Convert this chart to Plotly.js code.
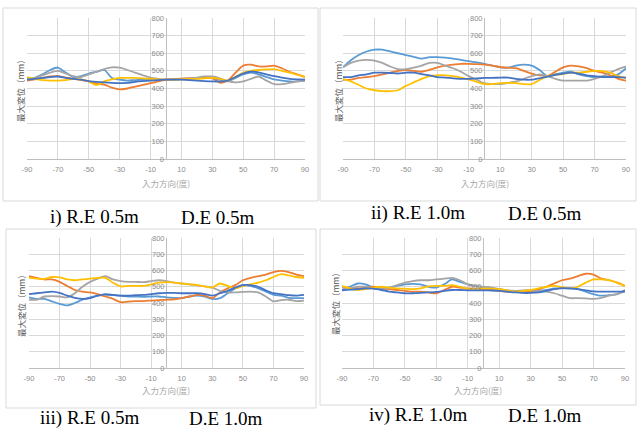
<!DOCTYPE html>
<html><head><meta charset="utf-8">
<script src="https://cdn.plot.ly/plotly-3.0.1.min.js"></script>
<style>html,body{margin:0;padding:0;background:#fff;}#chart{width:637px;height:430px;}</style>
</head><body><div id="chart"></div>
<script>
// Input direction (deg)
const angles = [-90,-85,-80,-75,-70,-65,-60,-55,-50,-45,-40,-35,-30,-25,-20,-15,-10,-5,0,5,10,15,20,25,30,35,40,45,50,55,60,65,70,75,80,85,90];
const xTicks = [-90,-70,-50,-30,-10,10,30,50,70,90];
const seriesColors = ['#5B9BD5','#ED7D31','#A5A5A5','#FFC000','#4472C4'];

// Panel i) R.E 0.5m D.E 0.5m
const p1_s1 = [455,460,480,505,519,490,465,470,485,495,505,460,450,445,448,450,450,450,450,452,455,458,460,462,458,450,440,460,480,490,480,465,452,445,440,440,445];
const p1_s2 = [445,452,460,468,470,462,455,448,440,428,422,405,395,400,410,420,430,440,450,453,456,458,460,462,460,432,445,490,530,535,525,525,530,515,495,480,465];
const p1_s3 = [450,460,475,490,500,485,470,465,480,495,510,520,518,505,490,475,462,455,450,450,452,455,462,468,468,458,442,435,440,455,468,445,425,425,432,440,445];
const p1_s4 = [465,455,448,445,445,448,455,452,440,420,440,452,460,460,460,458,455,452,450,450,452,455,455,458,460,455,445,465,490,500,505,508,510,500,490,478,465];
const p1_s5 = [450,455,460,465,468,460,455,450,442,438,435,432,430,432,438,442,445,448,450,450,450,448,445,442,440,440,445,465,485,495,492,480,470,462,455,452,450];

// Panel ii) R.E 1.0m D.E 0.5m
const p2_s1 = [520,560,590,610,620,620,610,600,590,580,570,578,578,575,570,562,555,548,540,530,520,518,530,535,530,505,470,480,490,495,480,470,465,468,470,480,515];
const p2_s2 = [450,450,460,465,470,480,490,500,505,500,495,505,520,530,535,540,540,538,535,530,522,518,515,500,485,475,470,495,520,530,525,515,500,490,475,455,445];
const p2_s3 = [520,545,558,562,558,545,525,510,510,518,530,545,545,530,515,495,470,450,430,425,425,432,440,455,470,480,470,455,445,445,445,445,455,470,490,510,525];
const p2_s4 = [455,440,420,400,390,385,385,390,415,435,455,470,475,475,470,462,452,438,425,425,430,432,430,425,425,448,470,478,482,490,490,495,500,498,490,470,460];
const p2_s5 = [465,465,475,480,490,490,488,485,490,490,482,475,465,462,458,455,455,457,460,460,462,462,455,450,450,458,468,478,485,490,485,475,470,465,465,465,462];

// Panel iii) R.E 0.5m D.E 1.0m
const p3_s1 = [435,425,425,410,395,385,400,420,435,445,450,448,445,440,440,438,440,440,435,432,430,440,445,440,425,430,460,490,510,505,490,470,450,445,432,430,430];
const p3_s2 = [565,555,545,545,530,505,480,470,465,455,440,425,405,408,412,412,415,418,420,423,430,440,450,445,430,465,490,510,540,555,565,575,590,598,590,575,565];
const p3_s3 = [420,420,440,442,440,435,460,500,530,550,565,545,535,530,530,528,535,540,535,525,520,515,508,502,495,475,465,465,468,470,465,440,410,418,420,412,415];
const p3_s4 = [555,550,548,560,558,545,540,545,550,555,555,525,502,505,505,505,515,525,528,525,520,515,510,502,495,520,505,490,505,515,525,540,560,578,570,560,555];
const p3_s5 = [455,460,465,470,462,445,432,425,430,445,455,450,445,445,448,450,455,460,462,462,460,460,460,455,445,460,475,495,510,510,500,478,460,455,448,445,450];

// Panel iv) R.E 1.0m D.E 1.0m
const p4_s1 = [480,500,520,515,495,485,495,505,515,518,515,500,495,515,545,530,515,505,495,490,485,478,470,465,468,475,480,490,490,490,485,470,455,445,448,455,480];
const p4_s2 = [500,490,490,495,500,490,485,480,475,470,470,465,460,480,500,495,490,488,485,480,475,470,468,468,470,485,500,520,540,550,565,580,575,550,540,525,505];
const p4_s3 = [495,490,500,500,490,485,495,510,525,535,540,540,545,550,555,540,515,505,500,495,485,478,475,478,478,475,470,460,445,430,430,428,425,432,445,455,470];
const p4_s4 = [505,490,480,485,495,500,495,490,488,485,490,502,505,505,510,500,485,488,490,488,485,478,470,475,480,490,500,505,498,490,500,525,545,545,540,525,505];
const p4_s5 = [478,482,485,490,488,480,470,465,460,460,462,465,468,475,480,480,478,478,478,477,475,470,465,462,462,465,475,485,492,490,485,478,472,470,470,470,472];

const panels = [
  {series:[p1_s1,p1_s2,p1_s3,p1_s4,p1_s5]},
  {series:[p2_s1,p2_s2,p2_s3,p2_s4,p2_s5]},
  {series:[p3_s1,p3_s2,p3_s3,p3_s4,p3_s5]},
  {series:[p4_s1,p4_s2,p4_s3,p4_s4,p4_s5]}
];
const captionsA = ['i) R.E 0.5m','ii) R.E 1.0m','iii) R.E 0.5m','iv) R.E 1.0m'];
const captionsB = ['D.E 0.5m','D.E 0.5m','D.E 1.0m','D.E 1.0m'];
const xTitle = '入力方向(度)';
const yTitle = '最大変位（mm）';

// geometry in pixels
const W = 637, H = 430;
const geo = [
  {x0:27, x1:305, y0:18, y1:159, frame:[3,8,318,201], yt:[20,89], xt:[166,183], ca:[94,217], cb:[218,217]},
  {x0:343, x1:626, y0:18, y1:159, frame:[320,8,636,201], yt:[338,89], xt:[485,183], ca:[418,213], cb:[545,213]},
  {x0:29, x1:304, y0:238, y1:368, frame:[6,229,316,408], yt:[21,304], xt:[166,390], ca:[89,418], cb:[226,418]},
  {x0:342, x1:625, y0:238, y1:368, frame:[320,229,636,405], yt:[335,302], xt:[478,390], ca:[418,415], cb:[545,415]}
];
const px = v => v / W;
const py = v => 1 - v / H;

const data = [];
const layout = {
  width: W, height: H,
  margin: {l:0, r:0, t:0, b:0},
  paper_bgcolor: '#fff', plot_bgcolor: 'rgba(0,0,0,0)',
  showlegend: false,
  font: {family: 'Noto Sans CJK JP, Noto Sans, sans-serif', color: '#7F7F7F'},
  shapes: [], annotations: []
};

panels.forEach((p, i) => {
  const n = i + 1;
  const xa = 'x' + (n === 1 ? '' : n), ya = 'y' + (n === 1 ? '' : n);
  p.series.forEach((s, k) => {
    data.push({x: angles, y: s, xaxis: xa, yaxis: ya, type: 'scatter', mode: 'lines',
      line: {color: seriesColors[k], width: 1.8, shape: 'spline', smoothing: 0.7},
      hoverinfo: 'skip'});
  });
  const g = geo[i];
  const xName = 'xaxis' + (n === 1 ? '' : n), yName = 'yaxis' + (n === 1 ? '' : n);
  layout[xName] = {
    domain: [px(g.x0), px(g.x1)], anchor: ya, range: [-90, 90],
    tickmode: 'array', tickvals: xTicks, ticktext: xTicks.map(String),
    showgrid: true, gridcolor: '#D9D9D9', gridwidth: 1,
    zeroline: true, zerolinecolor: '#BFBFBF', zerolinewidth: 1,
    showline: false, ticks: '', ticklabelstandoff: 4,
    tickfont: {size: 7.5, color: '#8C8C8C', family: 'Liberation Sans, Arial, sans-serif'}
  };
  layout[yName] = {
    domain: [py(g.y1), py(g.y0)], anchor: 'free', position: px((g.x0 + g.x1) / 2),
    range: [0, 800], dtick: 100, tick0: 0,
    showgrid: true, gridcolor: '#D9D9D9', gridwidth: 1,
    zeroline: true, zerolinecolor: '#BFBFBF', zerolinewidth: 1,
    showline: false, ticks: '', ticklabelstandoff: 2,
    tickfont: {size: 7.5, color: '#8C8C8C', family: 'Liberation Sans, Arial, sans-serif'}
  };
  layout.shapes.push({type: 'rect', xref: 'paper', yref: 'paper',
    x0: px(g.frame[0]), x1: px(g.frame[2]), y0: py(g.frame[3]), y1: py(g.frame[1]),
    line: {color: '#D9D9D9', width: 1}, fillcolor: 'rgba(0,0,0,0)', layer: 'below'});
  layout.annotations.push({xref: 'paper', yref: 'paper', x: px(g.yt[0]), y: py(g.yt[1]),
    text: yTitle, textangle: -90, showarrow: false, xanchor: 'center', yanchor: 'middle',
    font: {size: 8.5, color: '#595959', family: 'Noto Sans CJK JP'}});
  layout.annotations.push({xref: 'paper', yref: 'paper', x: px(g.xt[0]), y: py(g.xt[1]),
    text: xTitle, showarrow: false, xanchor: 'center', yanchor: 'middle',
    font: {size: 8.5, color: '#A6A6A6', family: 'Noto Sans CJK JP'}});
  layout.annotations.push({xref: 'paper', yref: 'paper', x: px(g.ca[0]), y: py(g.ca[1]),
    text: captionsA[i], showarrow: false, xanchor: 'center', yanchor: 'middle',
    font: {size: 19, color: '#000', family: 'Liberation Serif, Times New Roman, serif'}});
  layout.annotations.push({xref: 'paper', yref: 'paper', x: px(g.cb[0]), y: py(g.cb[1]),
    text: captionsB[i], showarrow: false, xanchor: 'center', yanchor: 'middle',
    font: {size: 19, color: '#000', family: 'Liberation Serif, Times New Roman, serif'}});
});

Plotly.newPlot('chart', data, layout, {staticPlot: true, displayModeBar: false});
</script>
</body></html>
